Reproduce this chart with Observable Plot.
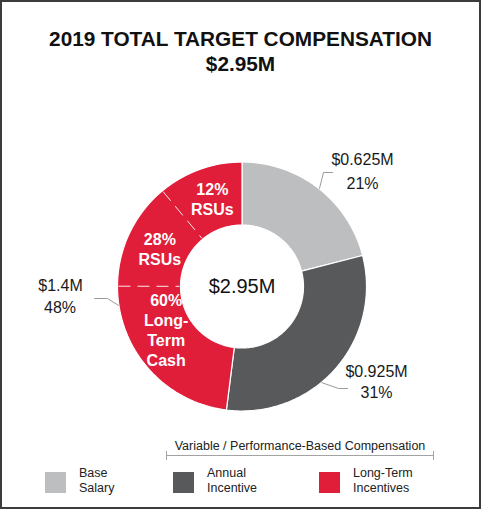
<!DOCTYPE html>
<html>
<head>
<meta charset="utf-8">
<script src="https://cdn.jsdelivr.net/npm/d3@7"></script>
<script src="https://cdn.jsdelivr.net/npm/@observablehq/plot@0.6"></script>
<style>
  html, body { margin: 0; padding: 0; background: #fff; }
  body { position: relative; width: 482px; height: 510px; overflow: hidden;
         font-family: Arial, "Liberation Sans", Helvetica, sans-serif; color: #1a1a1a; }
  #frame { position: absolute; left: 0; top: 0; width: 481px; height: 509px;
           box-sizing: border-box; border: 2px solid #3c3c3c; }
  #title { position: absolute; left: 0; top: 26px; width: 481px; text-align: center;
           font-weight: bold; font-size: 20.8px; line-height: 25px; color: #111; }
  #chart { position: absolute; left: 2px; top: 140px; }
  .abs { position: absolute; }
  .sw { position: absolute; width: 21px; height: 21px; }
  .lg { position: absolute; font-size: 12.5px; line-height: 15px; color: #222; white-space: nowrap; }
</style>
</head>
<body>
<div id="frame"></div>
<div id="title">2019 TOTAL TARGET COMPENSATION<br>$2.95M</div>
<div id="chart"></div>
<div id="legend"></div>
<script>
// ---------------- data ----------------
const categories = ["Base Salary", "Annual Incentive", "Long-Term Incentives"];
const legendLabels = ["Base\nSalary", "Annual\nIncentive", "Long-Term\nIncentives"];
const valueLabels = ["$0.625M", "$0.925M", "$1.4M"];
const sharePct = [21, 31, 48];
const totalLabel = "$2.95M";
// Long-term incentive breakdown (in drawing order, clockwise)
const ltiPartLabels = ["60%\nLong-\nTerm\nCash", "28%\nRSUs", "12%\nRSUs"];
// share of the LTI arc each part occupies as drawn in the reference (not to scale)
const ltiDrawnShare = [0.48, 0.29, 0.23];
const bracketLabel = "Variable / Performance-Based Compensation";

// ---------------- styles / layout ----------------
const colors = ["#bcbec0", "#58595b", "#e01e3a"];
const R_OUT = 124.5, R_IN = 61.5;
const W = 477, H = 290, CX = 239.5, CY = 146;
const deg = Math.PI / 180;
const pt = (a, r) => [r * Math.sin(a), -r * Math.cos(a)];

const pie = d3.pie().sort(null).value(d => d.pct).startAngle(0).endAngle(2 * Math.PI);
const arcs = pie(categories.map((c, i) => ({cat: c, pct: sharePct[i]})));

// ring polygons
const ring = [];
arcs.forEach(a => {
  const n = 90;
  for (let i = 0; i <= n; i++) {
    const t = a.startAngle + (a.endAngle - a.startAngle) * i / n;
    const [x, y] = pt(t, R_OUT); ring.push({cat: a.data.cat, x, y});
  }
  for (let i = n; i >= 0; i--) {
    const t = a.startAngle + (a.endAngle - a.startAngle) * i / n;
    const [x, y] = pt(t, R_IN); ring.push({cat: a.data.cat, x, y});
  }
});

// LTI sub-parts
const lti = arcs[2];
const span = lti.endAngle - lti.startAngle;
let acc = lti.startAngle;
const parts = ltiDrawnShare.map((s, i) => {
  const a0 = acc, a1 = acc + s * span; acc = a1;
  return {label: ltiPartLabels[i], a0, a1};
});
const dividers = parts.slice(1).map(p => {
  const [x1, y1] = pt(p.a0, R_OUT - 1), [x2, y2] = pt(p.a0, R_IN + 1);
  return {x1, y1, x2, y2};
});
const labelNudge = [[-6, -18], [2, 2], [2, 0]];
const partText = parts.map((p, i) => {
  const [x, y] = pt((p.a0 + p.a1) / 2, (R_OUT + R_IN) / 2);
  return {label: p.label, x: x + labelNudge[i][0], y: y + labelNudge[i][1]};
});

// outer labels with leader lines
const outerLayout = [
  {angle: 38.3, path: [[81.5, -114], [90.5, -114]], value: [120.5, -127], pct: [120.5, -103]},
  {angle: 140.3, path: [[96.5, 102], [105.5, 102]], value: [134.5, 85.5], pct: [134.5, 106.5]},
  {angle: 261.3, path: [[-134.5, 12], [-147.5, 12]], value: [-181.5, -1], pct: [-182, 21]}
];
const leaders = [];
const outerText = [];
outerLayout.forEach((L, i) => {
  const [x0, y0] = pt(L.angle * deg, R_OUT + 0.5);
  leaders.push({k: i, x: x0, y: y0});
  L.path.forEach(([x, y]) => leaders.push({k: i, x, y}));
  outerText.push({t: valueLabels[i], x: L.value[0], y: L.value[1]});
  outerText.push({t: sharePct[i] + "%", x: L.pct[0], y: L.pct[1]});
});

const font = 'Arial, "Liberation Sans", Helvetica, sans-serif';
const chart = Plot.plot({
  width: W, height: H,
  margin: 0,
  style: {background: "transparent", overflow: "visible", fontFamily: font},
  x: {domain: [-CX, W - CX], range: [0, W], axis: null},
  y: {domain: [-CY, H - CY], range: [0, H], axis: null},
  color: {domain: categories, range: colors},
  marks: [
    Plot.line(ring, {x: "x", y: "y", z: "cat", fill: "cat", stroke: "white", strokeWidth: 1.2, curve: "linear-closed"}),
    Plot.link(dividers, {x1: "x1", y1: "y1", x2: "x2", y2: "y2", stroke: "#ffffff", strokeOpacity: 0.9, strokeWidth: 1, strokeDasharray: "12,7"}),
    Plot.text(partText, {x: "x", y: "y", text: "label", fill: "white", fontWeight: "bold", fontSize: 16, lineHeight: 1.25}),
    Plot.line(leaders, {x: "x", y: "y", z: "k", stroke: "#9a9a9a", strokeWidth: 1}),
    Plot.text(outerText, {x: "x", y: "y", text: "t", fill: "#1a1a1a", fontSize: 16}),
    Plot.text([totalLabel], {x: () => 0, y: () => 0, text: d => d, fill: "#111", fontSize: 20})
  ]
});
document.getElementById("chart").appendChild(chart);

// ---------------- legend (HTML) ----------------
const legend = document.getElementById("legend");
const legendX = [45, 173, 319];
legendLabels.forEach((lab, i) => {
  const sw = document.createElement("div");
  sw.className = "sw";
  sw.style.left = legendX[i] + "px"; sw.style.top = "472px";
  sw.style.background = colors[i];
  legend.appendChild(sw);
  const t = document.createElement("div");
  t.className = "lg";
  t.style.left = (legendX[i] + 34) + "px"; t.style.top = "466px";
  t.innerHTML = lab.replace("\n", "<br>");
  legend.appendChild(t);
});
const bl = document.createElement("div");
bl.className = "lg";
bl.style.left = "166px"; bl.style.width = "268px"; bl.style.textAlign = "center";
bl.style.top = "438.5px"; bl.style.lineHeight = "14px";
bl.textContent = bracketLabel;
legend.appendChild(bl);
const mk = (l, t, w, h) => { const d = document.createElement("div"); d.className = "abs";
  Object.assign(d.style, {left: l + "px", top: t + "px", width: w + "px", height: h + "px", background: "#a3a3a3"});
  legend.appendChild(d); };
mk(166, 455, 268, 1);
mk(166, 451, 1, 9);
mk(433, 451, 1, 9);
</script>
</body>
</html>
